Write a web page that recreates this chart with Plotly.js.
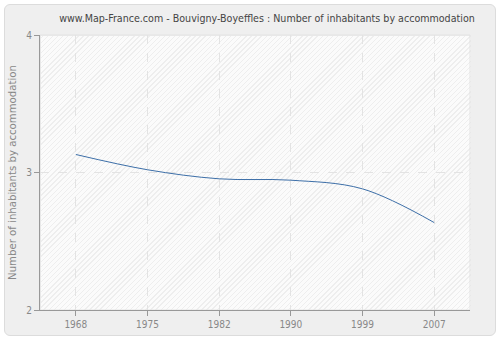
<!DOCTYPE html>
<html><head><meta charset="utf-8">
<script src="https://cdn.plot.ly/plotly-3.0.1.min.js"></script>
<style>
html,body{margin:0;padding:0;background:#fff;}
#wrap{position:absolute;left:4px;top:4px;width:490px;height:330px;background:#efefef;border:1px solid #dcdcdc;border-radius:6px;}
#hatch{position:absolute;left:36px;top:31px;width:430px;height:275px;background-color:#fbfbfb;
  background-image:repeating-linear-gradient(-45deg, #eeeeee 0px, #eeeeee 1px, transparent 1px, transparent 3.6px);}
#chart{position:absolute;left:-5px;top:-5px;width:500px;height:340px;}
</style></head><body>
<div id="wrap"><div id="hatch"></div><div id="chart"></div></div>
<script>
const years = ['1968', '1975', '1982', '1990', '1999', '2007'];
const values = [3.131, 3.02, 2.954, 2.944, 2.881, 2.636];
const yTicks = [2, 3, 4];

const trace = {
  x: years, y: values, type: 'scatter', mode: 'lines',
  line: {color: '#3d6fa8', width: 1, shape: 'spline', smoothing: 1},
  hoverinfo: 'skip'
};
const FONT = 'DejaVu Sans Condensed, DejaVu Sans, sans-serif';
const layout = {
  width: 500, height: 340,
  margin: {l: 40, r: 30, t: 35, b: 30},
  paper_bgcolor: 'rgba(0,0,0,0)',
  plot_bgcolor: 'rgba(0,0,0,0)',
  font: {family: FONT, size: 10, color: '#888'},
  title: {text: 'www.Map-France.com - Bouvigny-Boyeffles : Number of inhabitants by accommodation',
          font: {family: FONT, size: 10.6, color: '#444'}, x: 0.534, xanchor: 'center', y: 0.947, yanchor: 'middle'},
  showlegend: false,
  shapes: [{type: 'rect', xref: 'paper', yref: 'paper', x0: 0, x1: 1, y0: 0, y1: 1,
            line: {color: '#e2e2e2', width: 1}, fillcolor: 'rgba(0,0,0,0)', layer: 'below'}],
  xaxis: {
    type: 'category', range: [-0.5, 5.5],
    showgrid: true, gridcolor: '#e3e3e3', griddash: 'dash', gridwidth: 1,
    showline: true, linecolor: '#999', linewidth: 1,
    ticks: 'outside', ticklen: 5, tickcolor: '#999',
    zeroline: false, fixedrange: true
  },
  yaxis: {
    range: [2, 4], tickvals: yTicks, ticktext: yTicks.map(String),
    title: {text: 'Number of inhabitants by accommodation', font: {family: FONT, size: 11.3, color: '#888'}, standoff: 7},
    showgrid: true, gridcolor: '#e3e3e3', griddash: 'dash', gridwidth: 1,
    showline: true, linecolor: '#999', linewidth: 1,
    ticks: 'outside', ticklen: 5, tickcolor: '#999',
    zeroline: false, fixedrange: true
  }
};
Plotly.newPlot('chart', [trace], layout, {staticPlot: true, displayModeBar: false});
</script>
</body></html>
